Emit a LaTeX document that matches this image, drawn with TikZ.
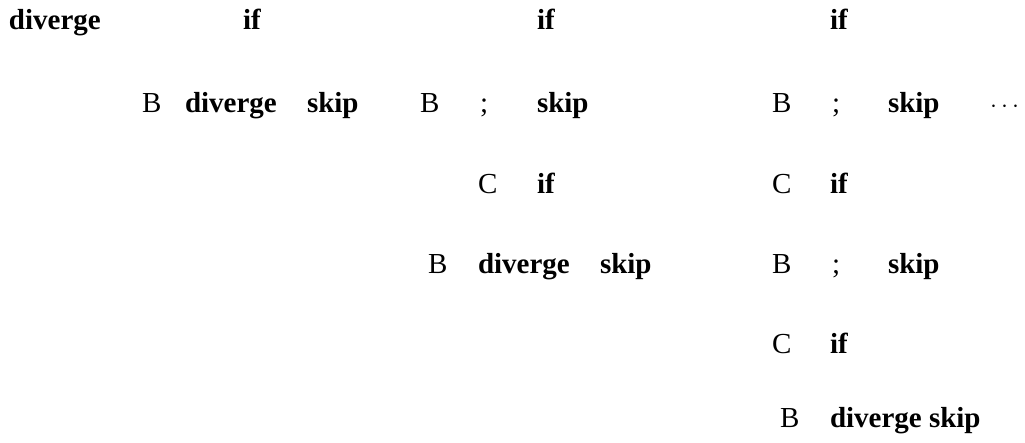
\documentclass[tikz,border=0pt]{standalone}
\usepackage{fontspec}
\setmainfont{Liberation Serif}
\begin{document}
\begin{tikzpicture}[x=1pt,y=-1pt,
  t/.style={anchor=base west,inner sep=0pt,outer sep=0pt,font=\fontsize{29}{32}\selectfont},
  k/.style={t,font=\fontsize{29}{32}\selectfont\bfseries}]
\useasboundingbox (0,0) rectangle (1025,442);
% column 1
\node[k] (d0) at (9,29) {diverge};
\node[k] (if1) at (243,29) {if};
\node[t] (b1) at (142,112) {B};
\node[k] (d1) at (185,112) {diverge};
\node[k] (s1) at (307,112) {skip};
% column 2
\node[k] (if2) at (537,29) {if};
\node[t] (b2) at (420,112) {B};
\node[t] (sc2) at (480,112) {;};
\node[k] (s2) at (537,112) {skip};
\node[t] (c2) at (478,193) {C};
\node[k] (if2b) at (537,193) {if};
\node[t] (b2b) at (428,273) {B};
\node[k] (d2) at (478,273) {diverge};
\node[k] (s2b) at (600,273) {skip};
% column 3
\node[k] (if3) at (830,29) {if};
\node[t] (b3) at (772,112) {B};
\node[t] (sc3) at (832,112) {;};
\node[k] (s3) at (888,112) {skip};
\node[t] (dots) at (990,112) {$\cdots$};
\node[t] (c3) at (772,193) {C};
\node[k] (if3b) at (830,193) {if};
\node[t] (b3b) at (772,273) {B};
\node[t] (sc3b) at (832,273) {;};
\node[k] (s3b) at (888,273) {skip};
\node[t] (c3b) at (772,353) {C};
\node[k] (if3c) at (830,353) {if};
\node[t] (b3c) at (780,427) {B};
\node[k] (d3) at (830,427) {diverge};
\node[k] (s3c) at (929,427) {skip};
\end{tikzpicture}
\end{document}
